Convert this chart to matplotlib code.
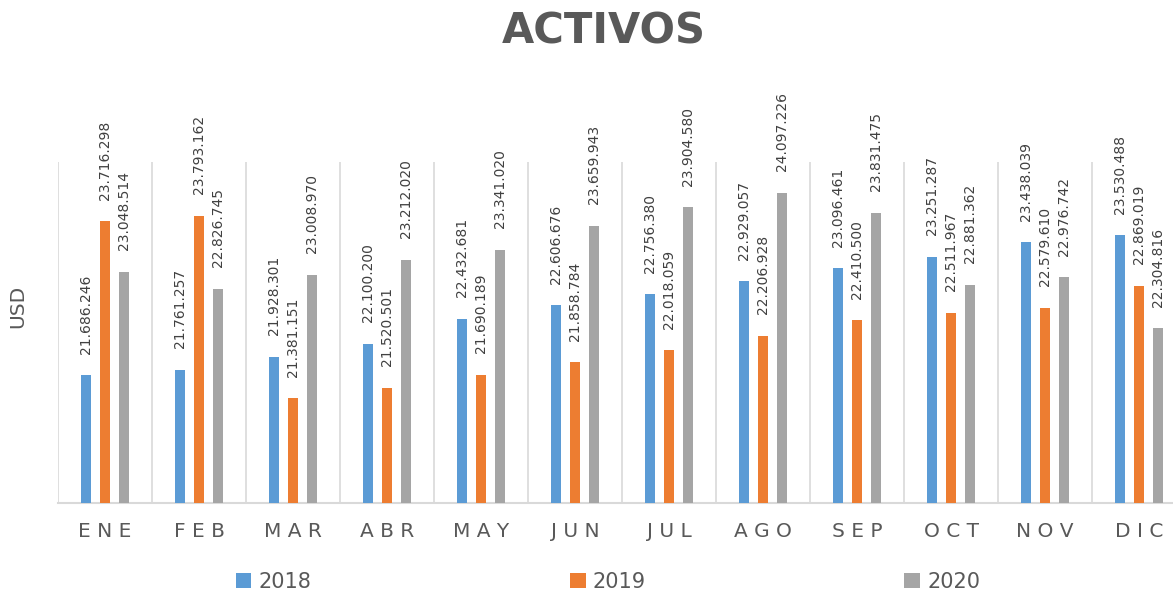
import matplotlib
matplotlib.use("Agg")
import matplotlib.pyplot as plt
from matplotlib.patches import Patch

months = ["ENE", "FEB", "MAR", "ABR", "MAY", "JUN", "JUL", "AGO", "SEP", "OCT", "NOV", "DIC"]
v2018 = [21686246, 21761257, 21928301, 22100200, 22432681, 22606676,
         22756380, 22929057, 23096461, 23251287, 23438039, 23530488]
v2019 = [23716298, 23793162, 21381151, 21520501, 21690189, 21858784,
         22018059, 22206928, 22410500, 22511967, 22579610, 22869019]
v2020 = [23048514, 22826745, 23008970, 23212020, 23341020, 23659943,
         23904580, 24097226, 23831475, 22881362, 22976742, 22304816]
series_names = ["2018", "2019", "2020"]
colors = ["#5B9BD5", "#ED7D31", "#A5A5A5"]

W, H = 1173, 591
fig = plt.figure(figsize=(W / 100, H / 100), dpi=100)
ax = fig.add_axes([58 / W, (H - 503) / H, 1128 / W, 341 / H])

x = list(range(len(months)))
offsets = [-0.2, 0.0, 0.2]
width = 0.105

for vals, off, col in zip([v2018, v2019, v2020], offsets, colors):
    xs = [i + off for i in x]
    ax.bar(xs, vals, width=width, color=col, zorder=3)
    for xi, v in zip(xs, vals):
        ax.annotate(f"{v:,}".replace(",", "."), xy=(xi, v), xytext=(0, 15.5),
                    textcoords="offset points", rotation=90, ha="center",
                    va="bottom", fontsize=10, color="#404040",
                    annotation_clip=False)

ax.set_xlim(-0.5, len(months) - 0.5)
ax.set_ylim(20e6, 24.5e6)
ax.set_yticks([])
ax.set_xticks(x)
ax.set_xticklabels([" ".join(m) for m in months], fontsize=14.5, color="#595959")
ax.tick_params(axis="x", length=0, pad=14)

for b in [i - 0.5 for i in range(len(months) + 1)]:
    ax.axvline(b, color="#D9D9D9", lw=1.2, zorder=1)
for s in ["top", "right", "left"]:
    ax.spines[s].set_visible(False)
ax.spines["bottom"].set_color("#D9D9D9")
ax.spines["bottom"].set_linewidth(1.5)

fig.text(18 / W, 1 - 306 / H, "USD", rotation=90, ha="center", va="center",
         fontsize=14.5, color="#595959")
fig.text(604 / W, 1 - 32 / H, "ACTIVOS", ha="center", va="center",
         fontsize=30, fontweight="bold", color="#595959")

handles = [Patch(facecolor=c, edgecolor="none") for c in colors]
fig.legend(handles, series_names, ncol=3, loc="center",
           bbox_to_anchor=(608 / W, 1 - 582 / H), frameon=False,
           fontsize=15, labelcolor="#595959", handlelength=0.75,
           handleheight=0.75, handletextpad=0.35, columnspacing=12.4)

fig.savefig("out.png", dpi=100)
